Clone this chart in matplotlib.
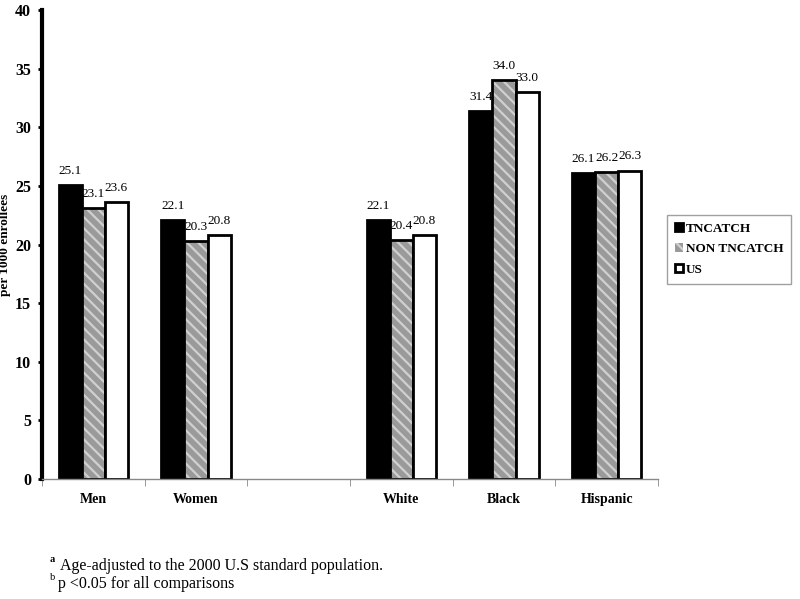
import matplotlib.pyplot as plt
import numpy as np

# data
categories = ["Men", "Women", "", "White", "Black", "Hispanic"]
tncatch = [25.1, 22.1, None, 22.1, 31.4, 26.1]
non_tncatch = [23.1, 20.3, None, 20.4, 34.0, 26.2]
us = [23.6, 20.8, None, 20.8, 33.0, 26.3]
series_names = ["TNCATCH", "NON TNCATCH", "US"]

plt.rcParams["font.family"] = ["Liberation Serif", "DejaVu Serif"]
plt.rcParams["hatch.linewidth"] = 1.6

fig = plt.figure(figsize=(8, 5.99), dpi=100)
ax = fig.add_axes([0.0525, 0.2003, 0.77, 0.783])

x = np.arange(len(categories))
w = 0.225
idx = [i for i, v in enumerate(tncatch) if v is not None]

def vals(s):
    return [s[i] for i in idx]

xs = x[idx]
b1 = ax.bar(xs - w, vals(tncatch), w, color="black", edgecolor="black", linewidth=2)
b2 = ax.bar(xs, vals(non_tncatch), w, color="#9a9a9a", edgecolor="#d0d0d0",
            hatch="\\\\\\", linewidth=0)
ax.bar(xs, vals(non_tncatch), w, fill=False, edgecolor="black", linewidth=2)
b3 = ax.bar(xs + w, vals(us), w, color="white", edgecolor="black", linewidth=2)

for off, s in zip([-w, 0, w], [tncatch, non_tncatch, us]):
    for xi, v in zip(xs, vals(s)):
        ax.text(xi + off, v + 0.7, f"{v:.1f}", ha="center", va="bottom", fontsize=9.5)

ax.set_xlim(-0.5, len(categories) - 0.5)
ax.set_ylim(0, 40)
ax.set_yticks(range(0, 41, 5))
ax.set_xticks(x)
ax.set_xticklabels(categories, fontweight="bold", fontsize=10)
ax.set_xticks(np.arange(-0.5, len(categories), 1), minor=True)
ax.tick_params(axis="x", which="major", length=0, pad=10)
ax.tick_params(axis="x", which="minor", length=5, color="#888888")
ax.tick_params(axis="y", length=3, width=2, labelsize=11.5, pad=5)
for t in ax.get_yticklabels():
    t.set_fontweight("bold")
ax.set_ylabel("per 1000 enrollees", fontweight="bold", fontsize=9.5)
ax.yaxis.set_label_coords(-0.05, 0.5)

ax.spines["top"].set_visible(False)
ax.spines["right"].set_visible(False)
ax.spines["left"].set_linewidth(3)
ax.spines["bottom"].set_color("#888888")
ax.spines["bottom"].set_linewidth(1)

leg = ax.legend([b1, b2, b3], series_names, loc="center left",
                bbox_to_anchor=(1.015, 0.49), prop={"weight": "bold", "size": 9.5},
                fancybox=False, edgecolor="#888888", handlelength=0.6,
                handleheight=0.6, handletextpad=0.2, borderpad=0.6, labelspacing=0.65,
                borderaxespad=0)
leg.get_frame().set_linewidth(1)

fig.text(0.062, 0.062, "a", fontsize=7.5, fontweight="bold")
fig.text(0.075, 0.048, "Age-adjusted to the 2000 U.S standard population.", fontsize=11.5)
fig.text(0.062, 0.032, "b", fontsize=7.5)
fig.text(0.072, 0.018, "p <0.05 for all comparisons", fontsize=11.5)

fig.savefig("out.png", dpi=100)
